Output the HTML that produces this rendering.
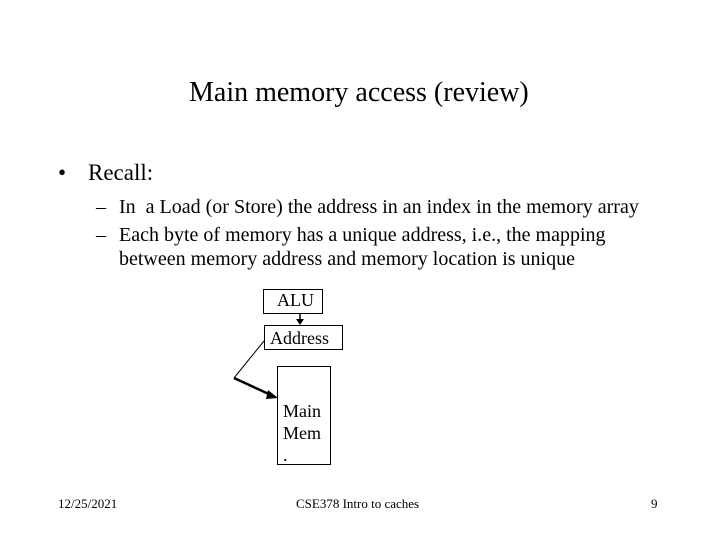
<!DOCTYPE html>
<html><head><style>
body{margin:0;width:720px;height:540px;background:#fff;position:relative;font-family:"Liberation Serif",serif;color:#000;overflow:hidden}
.t{position:absolute;white-space:nowrap}
</style></head><body>
<div class="t" style="left:189px;top:77px;font-size:28px">Main memory access (review)</div>
<div class="t" style="left:58px;top:160px;font-size:23px">•</div>
<div class="t" style="left:88px;top:160px;font-size:23px">Recall:</div>
<div class="t" style="left:96px;top:196px;font-size:20px">–</div>
<div class="t" style="left:119px;top:196px;font-size:20px">In &nbsp;a Load (or Store) the address in an index in the memory array</div>
<div class="t" style="left:96px;top:224px;font-size:20px">–</div>
<div class="t" style="left:119px;top:224px;font-size:20px">Each byte of memory has a unique address, i.e., the mapping</div>
<div class="t" style="left:119px;top:248px;font-size:20px">between memory address and memory location is unique</div>
<svg width="720" height="540" style="position:absolute;left:0;top:0">
<rect x="263.5" y="289.5" width="59" height="24" fill="none" stroke="#000"/>
<rect x="264.5" y="325.5" width="78" height="24" fill="none" stroke="#000"/>
<rect x="277.5" y="366.5" width="53" height="98" fill="none" stroke="#000"/>
<line x1="300" y1="314" x2="300" y2="320" stroke="#000" stroke-width="1.5"/>
<polygon points="296,319 304,319 300,325" fill="#000"/>
<line x1="264" y1="341" x2="234" y2="378" stroke="#000"/>
<line x1="234" y1="378" x2="271" y2="395" stroke="#000" stroke-width="2.5"/>
<polygon points="268,390 278,398 266,399" fill="#000"/>
</svg>
<div class="t" style="left:277px;top:290px;font-size:18px">ALU</div>
<div class="t" style="left:270px;top:328px;font-size:18px">Address</div>
<div class="t" style="left:283px;top:400px;font-size:18px;line-height:22px">Main<br>Mem<br>.</div>
<div class="t" style="left:58px;top:496px;font-size:13px">12/25/2021</div>
<div class="t" style="left:296px;top:496px;font-size:13px">CSE378 Intro to caches</div>
<div class="t" style="left:651px;top:496px;font-size:13px">9</div>
</body></html>
